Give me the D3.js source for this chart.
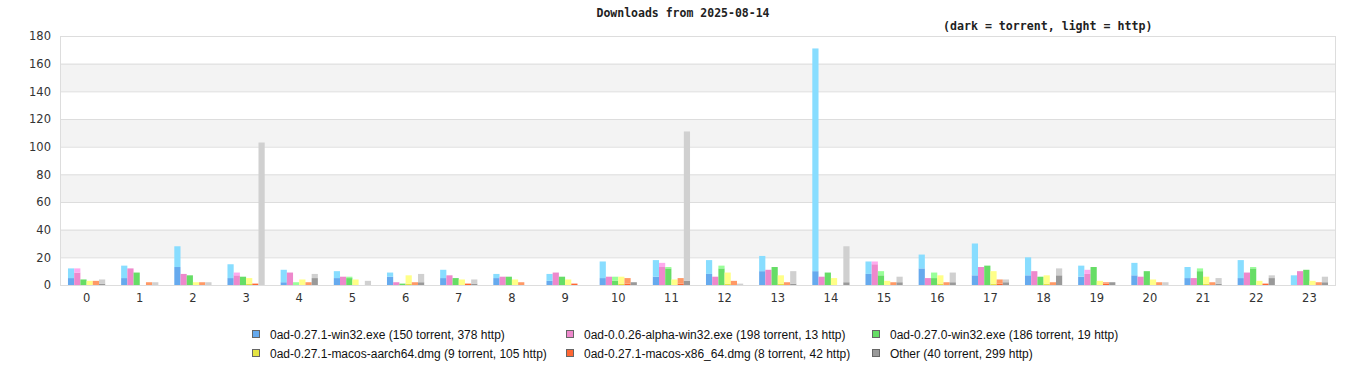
<!DOCTYPE html>
<html>
<head>
<meta charset="utf-8">
<script src="https://cdn.jsdelivr.net/npm/d3@7"></script>
<style>
body { margin: 0; background: #fff; }
</style>
</head>
<body>
<script>
var DL = {};     // DL-global scope

// hours of the day (x categories)
var hours = d3.range(24).map(String);

// y ticks
var yTicks = [0, 20, 40, 60, 80, 100, 120, 140, 160, 180];

// series names + legend totals
var seriesNames = [
    "0ad-0.27.1-win32.exe (150 torrent, 378 http)",
    "0ad-0.0.26-alpha-win32.exe (198 torrent, 13 http)",
    "0ad-0.27.0-win32.exe (186 torrent, 19 http)",
    "0ad-0.27.1-macos-aarch64.dmg (9 torrent, 105 http)",
    "0ad-0.27.1-macos-x86_64.dmg (8 torrent, 42 http)",
    "Other (40 torrent, 299 http)"
];

// torrent downloads per hour, one array per series
var torrent = [
    [5,5,13,5,2,5,6,5,5,3,5,6,8,10,10,8,12,7,7,6,7,5,5,0],
    [9,12,8,7,9,6,2,7,6,9,6,13,6,11,6,15,5,13,10,8,6,5,9,10],
    [4,9,7,6,0,5,1,5,6,6,3,12,12,13,9,7,5,14,6,13,10,10,12,11],
    [0,0,0,1,0,0,1,0,0,0,1,0,1,1,0,0,1,1,1,0,0,1,0,0],
    [0,0,0,1,0,0,0,1,0,1,1,1,0,0,0,0,0,1,0,1,0,0,1,0],
    [1,0,0,0,5,0,2,1,0,0,2,3,0,1,2,2,2,2,7,2,0,1,5,2]
];

// http downloads per hour, one array per series
var http = [
    [7,9,15,10,9,5,3,6,3,5,12,12,10,11,161,9,10,23,13,8,9,8,13,7],
    [3,0,0,2,0,0,0,0,0,0,0,3,0,0,0,2,0,0,0,3,0,0,0,0],
    [0,0,0,0,2,1,0,0,0,0,3,1,2,0,0,3,4,0,0,0,0,2,1,0],
    [3,0,2,4,4,4,6,4,4,4,5,4,8,6,5,3,6,9,6,3,4,5,3,3],
    [3,2,2,0,2,0,2,0,2,0,4,4,3,2,0,2,2,3,2,1,2,2,0,2],
    [3,2,2,103,3,3,6,3,0,0,0,108,1,9,26,4,7,2,5,0,2,4,2,4]
];

// dark = torrent, light = http
DL.dark  = ["#66aaee", "#ee88cc", "#66dd66", "#e4e444", "#ff6633", "#999999"];
DL.light = ["#88ddff", "#ffaaee", "#99ff99", "#ffff88", "#ff9966", "#d0d0d0"];

DL.W = 1366;
DL.H = 380;
DL.plot = { left: 60, right: 1336, top: 36, bottom: 285 };

DL.svg = d3.select("body").append("svg")
    .attr("width", DL.W)
    .attr("height", DL.H)
    .style("font-family", "'Liberation Sans', Arial, sans-serif");

/* scales */
DL.x0 = d3.scaleBand()
    .domain(hours)
    .range([DL.plot.left, DL.plot.right])
    .paddingInner(0.3)
    .paddingOuter(0.15);

DL.x1 = d3.scaleBand()
    .domain(d3.range(seriesNames.length))
    .range([0, DL.x0.bandwidth()]);

DL.y = d3.scaleLinear()
    .domain([0, 180])
    .range([DL.plot.bottom, DL.plot.top]);

/* alternating background bands */
DL.bandGrp = DL.svg.append("g");
DL.bandGrp.selectAll("rect")
    .data([140, 100, 60, 20])
    .enter()
    .append("rect")
    .attr("x", DL.plot.left)
    .attr("width", DL.plot.right - DL.plot.left)
    .attr("y", function(d) { return DL.y(d + 20); })
    .attr("height", function(d) { return DL.y(d) - DL.y(d + 20); })
    .style("fill", "#f3f3f3");

/* grid lines + y labels */
DL.yAxis = DL.svg.append("g")
    .attr("transform", "translate(" + DL.plot.left + ",0)")
    .call(d3.axisLeft(DL.y)
        .tickValues(yTicks)
        .tickSize(-(DL.plot.right - DL.plot.left))
        .tickPadding(9));
DL.yAxis.select(".domain").remove();
DL.yAxis.selectAll("line").style("stroke", "#dddddd");
DL.yAxis.selectAll("text")
    .style("fill", "#333")
    .style("font-size", "11.5px")
    .style("font-family", "'DejaVu Sans', sans-serif");

/* frame */
DL.svg.append("rect")
    .attr("x", DL.plot.left + 0.5)
    .attr("y", DL.plot.top + 0.5)
    .attr("width", DL.plot.right - DL.plot.left - 1)
    .attr("height", DL.plot.bottom - DL.plot.top)
    .style("fill", "none")
    .style("stroke", "#dddddd");

/* x labels */
DL.xAxis = DL.svg.append("g")
    .attr("transform", "translate(0," + DL.plot.bottom + ")")
    .call(d3.axisBottom(DL.x0).tickSize(0).tickPadding(9));
DL.xAxis.select(".domain").remove();
DL.xAxis.selectAll("text")
    .style("fill", "#333")
    .style("font-size", "11.5px")
    .style("font-family", "'DejaVu Sans', sans-serif");

/* bars: torrent at bottom, http stacked on top */
DL.barGrp = DL.svg.append("g");
seriesNames.forEach(function(name, s) {
    var g = DL.barGrp.append("g");
    var rows = hours.map(function(h, i) {
        return { hour: h, t: torrent[s][i], h: http[s][i] };
    });
    g.selectAll("rect.t")
        .data(rows)
        .enter()
        .append("rect")
        .attr("class", "t")
        .attr("x", function(d) { return DL.x0(d.hour) + DL.x1(s); })
        .attr("width", DL.x1.bandwidth())
        .attr("y", function(d) { return DL.y(d.t); })
        .attr("height", function(d) { return DL.y(0) - DL.y(d.t); })
        .style("fill", DL.dark[s]);
    g.selectAll("rect.h")
        .data(rows)
        .enter()
        .append("rect")
        .attr("class", "h")
        .attr("x", function(d) { return DL.x0(d.hour) + DL.x1(s); })
        .attr("width", DL.x1.bandwidth())
        .attr("y", function(d) { return DL.y(d.t + d.h); })
        .attr("height", function(d) { return DL.y(d.t) - DL.y(d.t + d.h); })
        .style("fill", DL.light[s]);
});

/* titles */
DL.svg.append("text")
    .attr("x", 683)
    .attr("y", 17)
    .attr("text-anchor", "middle")
    .style("font-family", "'DejaVu Sans Mono', monospace")
    .style("font-weight", "bold")
    .style("font-size", "11.5px")
    .style("fill", "#222")
    .text("Downloads from 2025-08-14");

DL.svg.append("text")
    .attr("x", 943)
    .attr("y", 30)
    .style("font-family", "'DejaVu Sans Mono', monospace")
    .style("font-weight", "bold")
    .style("font-size", "11.6px")
    .style("fill", "#222")
    .text("(dark = torrent, light = http)");

/* legend */
DL.legX = [252, 566, 872];
DL.legY = [335, 354];
DL.legGrp = DL.svg.append("g");
DL.legItems = DL.legGrp.selectAll("g")
    .data(seriesNames)
    .enter()
    .append("g")
    .attr("transform", function(d, i) {
        return "translate(" + DL.legX[i % 3] + "," + DL.legY[Math.floor(i / 3)] + ")";
    });
DL.legItems.append("rect")
    .attr("x", 0.5)
    .attr("y", -4.5)
    .attr("width", 7)
    .attr("height", 7)
    .style("fill", function(d, i) { return DL.dark[i]; })
    .style("stroke", "#666")
    .style("stroke-width", 1);
DL.legItems.append("text")
    .attr("x", 18)
    .attr("y", 4)
    .style("font-size", "12px")
    .style("fill", "#111")
    .text(function(d) { return d; });
</script>
</body>
</html>
